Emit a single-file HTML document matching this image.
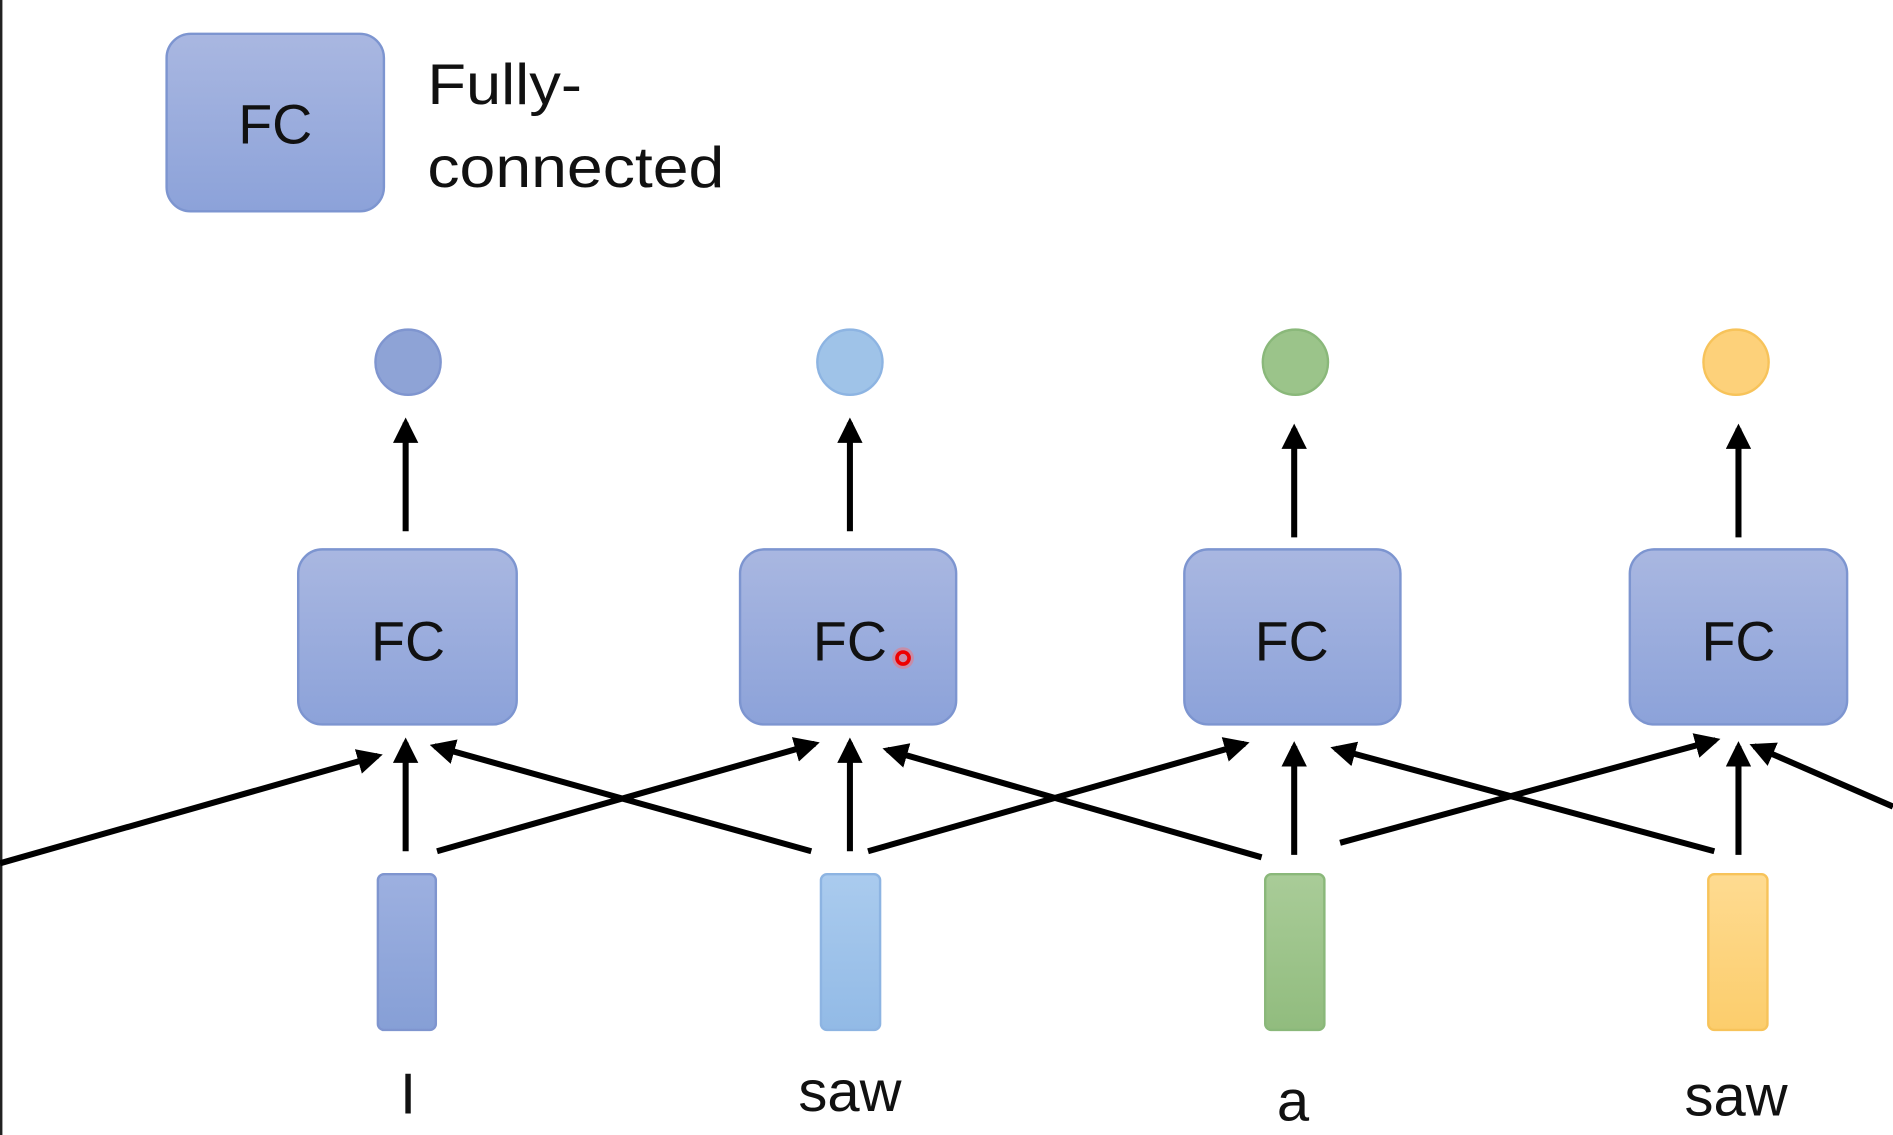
<!DOCTYPE html>
<html><head><meta charset="utf-8"><style>
html,body{margin:0;padding:0;background:#fff;}
svg{display:block;}
text{font-family:"Liberation Sans",sans-serif;fill:#111;}
</style></head><body>
<svg width="1893" height="1135" viewBox="0 0 1568 940" preserveAspectRatio="none" xmlns="http://www.w3.org/2000/svg">
<defs>
<linearGradient id="fc" x1="0" y1="0" x2="0" y2="1"><stop offset="0" stop-color="#a9b7e1"/><stop offset="1" stop-color="#8ca2d9"/></linearGradient>
<linearGradient id="b1" x1="0" y1="0" x2="0" y2="1"><stop offset="0" stop-color="#9db0e0"/><stop offset="1" stop-color="#869fd6"/></linearGradient>
<linearGradient id="b2" x1="0" y1="0" x2="0" y2="1"><stop offset="0" stop-color="#aacbee"/><stop offset="1" stop-color="#92bae6"/></linearGradient>
<linearGradient id="b3" x1="0" y1="0" x2="0" y2="1"><stop offset="0" stop-color="#a9cc98"/><stop offset="1" stop-color="#91bc7e"/></linearGradient>
<linearGradient id="b4" x1="0" y1="0" x2="0" y2="1"><stop offset="0" stop-color="#fedb91"/><stop offset="1" stop-color="#fccd6c"/></linearGradient>
<marker id="ah" viewBox="0 0 10 10" refX="8" refY="5" markerWidth="4.2" markerHeight="4.2" orient="auto"><path d="M0,0 L10,5 L0,10 z" fill="#000"/></marker>
</defs>
<rect x="0" y="0" width="2" height="940" fill="#222"/>
<rect x="138" y="28" width="180" height="147" rx="20" fill="url(#fc)" stroke="#7d95d0" stroke-width="2"/>
<text x="228" y="119" font-size="46" text-anchor="middle">FC</text>
<text x="354" y="86" font-size="48" textLength="128" lengthAdjust="spacingAndGlyphs">Fully-</text>
<text x="354" y="155" font-size="48" textLength="246" lengthAdjust="spacingAndGlyphs">connected</text>

<g stroke="#7d95d0" stroke-width="2" fill="url(#fc)">
<rect x="247" y="455" width="181" height="145" rx="20"/>
<rect x="613" y="455" width="179" height="145" rx="20"/>
<rect x="981" y="455" width="179" height="145" rx="20"/>
<rect x="1350" y="455" width="180" height="145" rx="20"/>
</g>
<g font-size="46" text-anchor="middle">
<text x="338" y="547">FC</text><text x="704" y="547">FC</text><text x="1070" y="547">FC</text><text x="1440" y="547">FC</text>
</g>
<circle cx="748" cy="545" r="9" fill="#ff6b6b" opacity="0.45"/>
<circle cx="748" cy="545" r="5" fill="none" stroke="#e00" stroke-width="3"/>

<circle cx="338" cy="300" r="27" fill="#8ea3d6" stroke="#7f95cf" stroke-width="2"/>
<circle cx="704" cy="300" r="27" fill="#9fc3e8" stroke="#8db4e2" stroke-width="2"/>
<circle cx="1073" cy="300" r="27" fill="#9bc48a" stroke="#8ab87a" stroke-width="2"/>
<circle cx="1438" cy="300" r="27" fill="#fdd17a" stroke="#f7c35a" stroke-width="2"/>

<rect x="313" y="724" width="48" height="129" rx="5" fill="url(#b1)" stroke="#7f95cf" stroke-width="2"/>
<rect x="680" y="724" width="49" height="129" rx="5" fill="url(#b2)" stroke="#8db4e2" stroke-width="2"/>
<rect x="1048" y="724" width="49" height="129" rx="5" fill="url(#b3)" stroke="#8ab87a" stroke-width="2"/>
<rect x="1415" y="724" width="49" height="129" rx="5" fill="url(#b4)" stroke="#f7c35a" stroke-width="2"/>

<g font-size="48" text-anchor="middle">
<text x="338" y="922">I</text><text x="704" y="920">saw</text><text x="1071" y="928">a</text><text x="1438" y="924">saw</text>
</g>

<g stroke="#000" stroke-width="5" marker-end="url(#ah)" fill="none">
<line x1="336" y1="440" x2="336" y2="350"/>
<line x1="704" y1="440" x2="704" y2="350"/>
<line x1="1072" y1="445" x2="1072" y2="355"/>
<line x1="1440" y1="445" x2="1440" y2="355"/>
<line x1="336" y1="705" x2="336" y2="615"/>
<line x1="704" y1="705" x2="704" y2="615"/>
<line x1="1072" y1="708" x2="1072" y2="618"/>
<line x1="1440" y1="708" x2="1440" y2="618"/>
<line x1="0" y1="715" x2="313" y2="626"/>
<line x1="362" y1="705" x2="675" y2="616"/>
<line x1="719" y1="705" x2="1031" y2="616"/>
<line x1="1110" y1="698" x2="1421" y2="613"/>
<line x1="672" y1="705" x2="360" y2="618"/>
<line x1="1045" y1="710" x2="735" y2="621"/>
<line x1="1420" y1="705" x2="1106" y2="620"/>
<line x1="1568" y1="668" x2="1453" y2="618"/>
</g>
</svg>
</body></html>
